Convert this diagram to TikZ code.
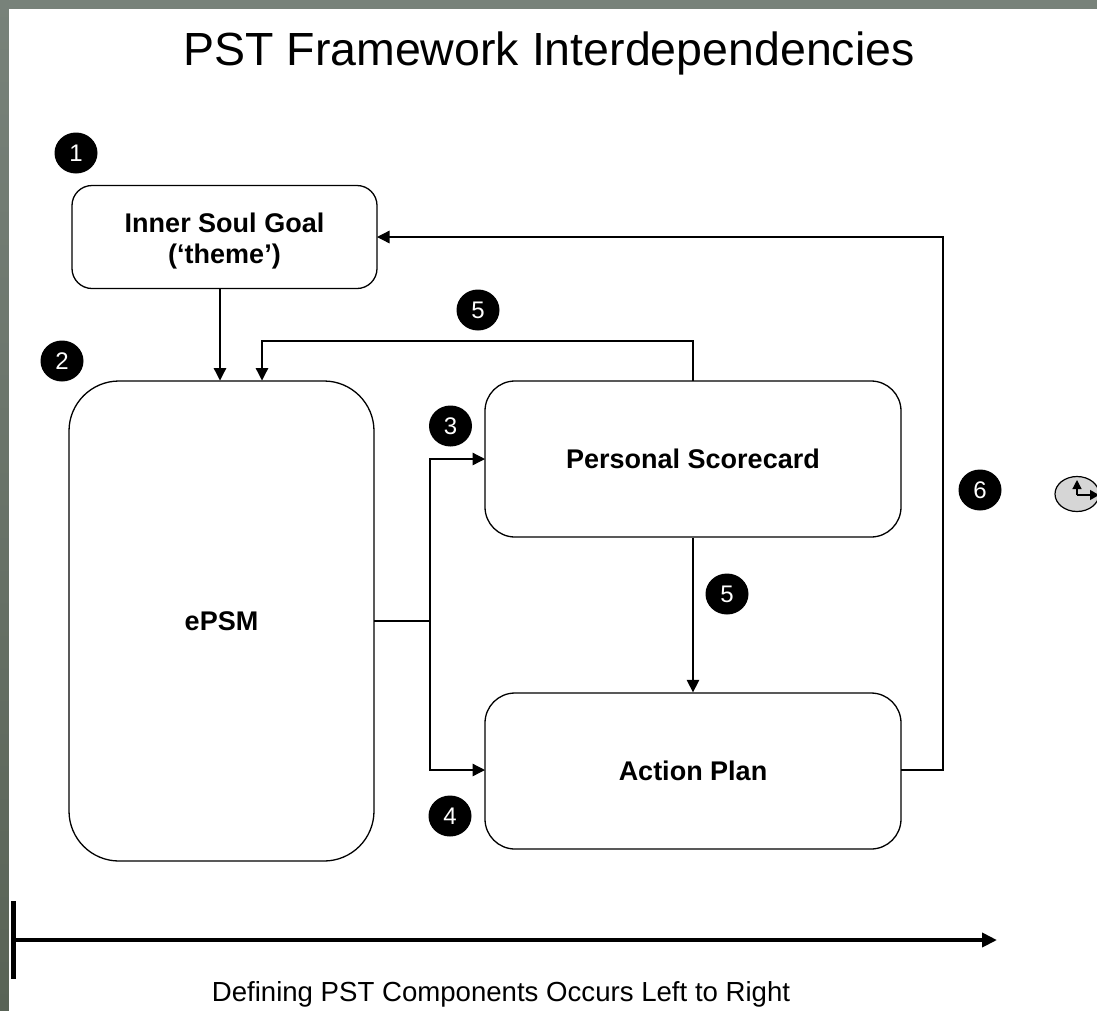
\documentclass[tikz,border=0pt]{standalone}
\usepackage{fontspec}
\setmainfont{Liberation Sans}
\usetikzlibrary{arrows.meta,shapes.geometric}
\definecolor{bandtop}{HTML}{78827A}
\definecolor{bandbot}{HTML}{596356}
\tikzset{
  x=1pt,y=-1pt,
  card/.style={draw=black,line width=1.3pt,fill=white,align=center,font=\fontsize{27}{31}\selectfont\bfseries,inner sep=0pt},
  badge/.style={ellipse,fill=black,text=white,minimum width=43pt,minimum height=41pt,inner sep=0pt,font=\fontsize{24}{24}\selectfont},
  link/.style={draw=black,line width=1.3pt,-{Triangle[length=12.5pt,width=12.5pt]}},
  plain/.style={draw=black,line width=1.3pt},
}
\begin{document}
\begin{tikzpicture}
\useasboundingbox (0,0) rectangle (1097,1010);
\shade[top color=bandtop,bottom color=bandbot] (0,0) rectangle (1097,1010);
\fill[white] (9,9) rectangle (1100,1015);
\node[anchor=base] (title) at (549,65.7) {\fontsize{46.5}{50}\selectfont PST Framework Interdependencies};
\node[card,rounded corners=20pt,minimum width=305pt,minimum height=103pt] (soul) at (224.5,237) {\rule{0pt}{28pt}Inner Soul Goal\\(‘theme’)};
\node[card,rounded corners=50pt,minimum width=305pt,minimum height=480pt] (epsm) at (221.5,621) {ePSM};
\node[card,rounded corners=30pt,minimum width=416pt,minimum height=156pt] (score) at (693,459) {Personal Scorecard};
\node[card,rounded corners=30pt,minimum width=416pt,minimum height=156pt] (plan) at (693,771) {Action Plan};
\node[badge] (b1) at (76,153) {1};
\node[badge] (b2) at (62,361) {2};
\node[badge] (b5a) at (478,310) {5};
\node[badge] (b3) at (450.5,426) {3};
\node[badge] (b5b) at (727,594) {5};
\node[badge] (b4) at (450,816) {4};
\node[badge] (b6) at (980,490) {6};
\coordinate (soulin) at (377,237);
\coordinate (epsmA) at (220,380.5);
\coordinate (soulB) at (220,288);
\coordinate (epsmB) at (262,380.5);
\coordinate (scoreT) at (693,381);
\coordinate (epsmR) at (374,621);
\coordinate (split) at (430,621);
\coordinate (scoreL) at (485,459);
\coordinate (planL) at (485,770);
\coordinate (planR) at (901,770);
\draw[link] (soulB) -- (epsmA);
\draw[link] (scoreT) -- (693,341) -- (262,341) -- (epsmB);
\draw[plain] (epsmR) -- (split);
\draw[link] (split) -- (430,459) -- (scoreL);
\draw[link] (split) -- (430,770) -- (planL);
\draw[link] (score.south) -- (plan.north);
\draw[link] (planR) -- (943,770) -- (943,237) -- (soulin);
% clock
\node[draw=black,line width=1.2pt,fill=black!16,ellipse,minimum width=44pt,minimum height=35pt,inner sep=0pt] (clock) at (1077,494) {};
\draw[line width=1.2pt,-{Triangle[length=9pt,width=9pt]}] (clock.center) ++(0,1) -- ++(0,-15);
\draw[line width=1.2pt,-{Triangle[length=9pt,width=10pt]}] (clock.center) ++(0,1) -- ++(22,0);
% time axis
\coordinate (axisL) at (16,940);
\coordinate (axisR) at (997,940);
\draw[black,line width=5.3pt] (13.4,901) -- (13.4,979);
\draw[black,line width=4.5pt,-{Triangle[length=15pt,width=14pt]}] (axisL) -- (axisR);
\node[anchor=base] (axislabel) at (501,1001) {\fontsize{27.6}{30}\selectfont Defining PST Components Occurs Left to Right};
\end{tikzpicture}
\end{document}
